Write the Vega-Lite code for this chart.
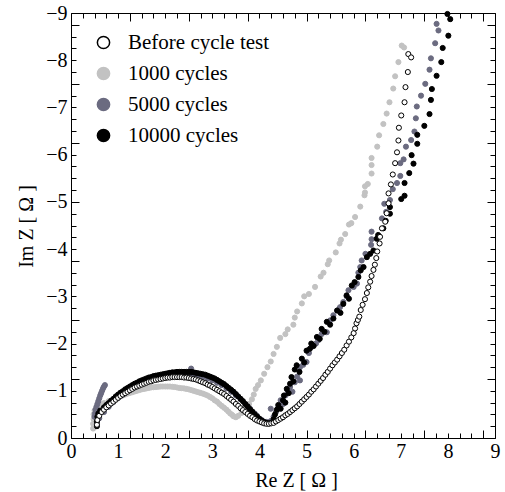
{
  "$schema": "https://vega.github.io/schema/vega-lite/v6.json",
  "width": 424,
  "height": 425,
  "autosize": {"type": "none"},
  "padding": {"left": 71, "top": 13, "right": 10, "bottom": 54},
  "background": "white",
  "config": {
    "view": {"stroke": null},
    "font": "Liberation Serif",
    "axis": {
      "labelFont": "Liberation Serif",
      "labelFontSize": 20,
      "labelColor": "black",
      "titleFont": "Liberation Serif",
      "titleFontSize": 20,
      "titleFontWeight": "normal",
      "titleColor": "black",
      "domainColor": "black",
      "domainWidth": 1,
      "tickColor": "black",
      "tickWidth": 1,
      "grid": false
    },
    "legend": {
      "labelFont": "Liberation Serif",
      "labelFontSize": 21,
      "labelColor": "black"
    }
  },
  "layer": [
    {
      "data": {
        "values": [
          {"s": "1000 cycles", "re": 0.47, "im": -0.2},
          {"s": "1000 cycles", "re": 0.47, "im": -0.3},
          {"s": "1000 cycles", "re": 0.48, "im": -0.4},
          {"s": "1000 cycles", "re": 0.48, "im": -0.5},
          {"s": "1000 cycles", "re": 0.5, "im": -0.58},
          {"s": "1000 cycles", "re": 0.55, "im": -0.65},
          {"s": "1000 cycles", "re": 0.62, "im": -0.7},
          {"s": "1000 cycles", "re": 0.7, "im": -0.74},
          {"s": "1000 cycles", "re": 0.8, "im": -0.78},
          {"s": "1000 cycles", "re": 0.9, "im": -0.82},
          {"s": "1000 cycles", "re": 0.95, "im": -0.84},
          {"s": "1000 cycles", "re": 1.0, "im": -0.86},
          {"s": "1000 cycles", "re": 1.05, "im": -0.88},
          {"s": "1000 cycles", "re": 1.1, "im": -0.9},
          {"s": "1000 cycles", "re": 1.15, "im": -0.92},
          {"s": "1000 cycles", "re": 1.2, "im": -0.94},
          {"s": "1000 cycles", "re": 1.25, "im": -0.955},
          {"s": "1000 cycles", "re": 1.3, "im": -0.97},
          {"s": "1000 cycles", "re": 1.35, "im": -0.985},
          {"s": "1000 cycles", "re": 1.4, "im": -1.0},
          {"s": "1000 cycles", "re": 1.45, "im": -1.015},
          {"s": "1000 cycles", "re": 1.5, "im": -1.03},
          {"s": "1000 cycles", "re": 1.55, "im": -1.04},
          {"s": "1000 cycles", "re": 1.6, "im": -1.05},
          {"s": "1000 cycles", "re": 1.65, "im": -1.06},
          {"s": "1000 cycles", "re": 1.7, "im": -1.07},
          {"s": "1000 cycles", "re": 1.75, "im": -1.075},
          {"s": "1000 cycles", "re": 1.8, "im": -1.08},
          {"s": "1000 cycles", "re": 1.85, "im": -1.085},
          {"s": "1000 cycles", "re": 1.9, "im": -1.09},
          {"s": "1000 cycles", "re": 1.95, "im": -1.09},
          {"s": "1000 cycles", "re": 2.0, "im": -1.09},
          {"s": "1000 cycles", "re": 2.05, "im": -1.09},
          {"s": "1000 cycles", "re": 2.1, "im": -1.09},
          {"s": "1000 cycles", "re": 2.15, "im": -1.085},
          {"s": "1000 cycles", "re": 2.2, "im": -1.08},
          {"s": "1000 cycles", "re": 2.25, "im": -1.07},
          {"s": "1000 cycles", "re": 2.3, "im": -1.06},
          {"s": "1000 cycles", "re": 2.35, "im": -1.055},
          {"s": "1000 cycles", "re": 2.4, "im": -1.05},
          {"s": "1000 cycles", "re": 2.45, "im": -1.04},
          {"s": "1000 cycles", "re": 2.5, "im": -1.03},
          {"s": "1000 cycles", "re": 2.55, "im": -1.015},
          {"s": "1000 cycles", "re": 2.6, "im": -1.0},
          {"s": "1000 cycles", "re": 2.65, "im": -0.985},
          {"s": "1000 cycles", "re": 2.7, "im": -0.97},
          {"s": "1000 cycles", "re": 2.75, "im": -0.955},
          {"s": "1000 cycles", "re": 2.8, "im": -0.94},
          {"s": "1000 cycles", "re": 2.85, "im": -0.92},
          {"s": "1000 cycles", "re": 2.9, "im": -0.9},
          {"s": "1000 cycles", "re": 2.95, "im": -0.87},
          {"s": "1000 cycles", "re": 3.0, "im": -0.84},
          {"s": "1000 cycles", "re": 3.05, "im": -0.8},
          {"s": "1000 cycles", "re": 3.1, "im": -0.77},
          {"s": "1000 cycles", "re": 3.15, "im": -0.72},
          {"s": "1000 cycles", "re": 3.2, "im": -0.68},
          {"s": "1000 cycles", "re": 3.25, "im": -0.64},
          {"s": "1000 cycles", "re": 3.3, "im": -0.6},
          {"s": "1000 cycles", "re": 3.34, "im": -0.56},
          {"s": "1000 cycles", "re": 3.38, "im": -0.52},
          {"s": "1000 cycles", "re": 3.42, "im": -0.49},
          {"s": "1000 cycles", "re": 3.45, "im": -0.46},
          {"s": "1000 cycles", "re": 3.5, "im": -0.44},
          {"s": "1000 cycles", "re": 3.55, "im": -0.47},
          {"s": "1000 cycles", "re": 3.62, "im": -0.53},
          {"s": "1000 cycles", "re": 3.7, "im": -0.62},
          {"s": "1000 cycles", "re": 3.78, "im": -0.72},
          {"s": "1000 cycles", "re": 3.84, "im": -0.82},
          {"s": "1000 cycles", "re": 3.88, "im": -0.92},
          {"s": "1000 cycles", "re": 3.92, "im": -1.04},
          {"s": "1000 cycles", "re": 3.97, "im": -1.12},
          {"s": "1000 cycles", "re": 4.03, "im": -1.22},
          {"s": "1000 cycles", "re": 4.1, "im": -1.36},
          {"s": "1000 cycles", "re": 4.17, "im": -1.5},
          {"s": "1000 cycles", "re": 4.24, "im": -1.62},
          {"s": "1000 cycles", "re": 4.3, "im": -1.78},
          {"s": "1000 cycles", "re": 4.37, "im": -1.93},
          {"s": "1000 cycles", "re": 4.44, "im": -2.12},
          {"s": "1000 cycles", "re": 4.55, "im": -2.2},
          {"s": "1000 cycles", "re": 4.6, "im": -2.3},
          {"s": "1000 cycles", "re": 4.72, "im": -2.4},
          {"s": "1000 cycles", "re": 4.75, "im": -2.55},
          {"s": "1000 cycles", "re": 4.8, "im": -2.68},
          {"s": "1000 cycles", "re": 4.9, "im": -2.85},
          {"s": "1000 cycles", "re": 4.95, "im": -3.0},
          {"s": "1000 cycles", "re": 5.05, "im": -3.05},
          {"s": "1000 cycles", "re": 5.18, "im": -3.2},
          {"s": "1000 cycles", "re": 5.3, "im": -3.42},
          {"s": "1000 cycles", "re": 5.36, "im": -3.5},
          {"s": "1000 cycles", "re": 5.45, "im": -3.68},
          {"s": "1000 cycles", "re": 5.48, "im": -3.76},
          {"s": "1000 cycles", "re": 5.62, "im": -3.93},
          {"s": "1000 cycles", "re": 5.7, "im": -4.12},
          {"s": "1000 cycles", "re": 5.73, "im": -4.2},
          {"s": "1000 cycles", "re": 5.82, "im": -4.32},
          {"s": "1000 cycles", "re": 5.9, "im": -4.52},
          {"s": "1000 cycles", "re": 5.95, "im": -4.55},
          {"s": "1000 cycles", "re": 6.03, "im": -4.68},
          {"s": "1000 cycles", "re": 6.14, "im": -4.9},
          {"s": "1000 cycles", "re": 6.23, "im": -5.14},
          {"s": "1000 cycles", "re": 6.24, "im": -5.2},
          {"s": "1000 cycles", "re": 6.24, "im": -5.33},
          {"s": "1000 cycles", "re": 6.3, "im": -5.38},
          {"s": "1000 cycles", "re": 6.38, "im": -5.6},
          {"s": "1000 cycles", "re": 6.38, "im": -5.78},
          {"s": "1000 cycles", "re": 6.38, "im": -5.93},
          {"s": "1000 cycles", "re": 6.5, "im": -6.17},
          {"s": "1000 cycles", "re": 6.54, "im": -6.41},
          {"s": "1000 cycles", "re": 6.63, "im": -6.65},
          {"s": "1000 cycles", "re": 6.7, "im": -6.87},
          {"s": "1000 cycles", "re": 6.76, "im": -7.11},
          {"s": "1000 cycles", "re": 6.84, "im": -7.4},
          {"s": "1000 cycles", "re": 6.88, "im": -7.66},
          {"s": "1000 cycles", "re": 6.95, "im": -7.96},
          {"s": "1000 cycles", "re": 7.02, "im": -8.31},
          {"s": "1000 cycles", "re": 7.07, "im": -8.27},

          {"s": "5000 cycles", "re": 0.5, "im": -0.45},
          {"s": "5000 cycles", "re": 0.51, "im": -0.52},
          {"s": "5000 cycles", "re": 0.52, "im": -0.6},
          {"s": "5000 cycles", "re": 0.54, "im": -0.66},
          {"s": "5000 cycles", "re": 0.56, "im": -0.72},
          {"s": "5000 cycles", "re": 0.58, "im": -0.78},
          {"s": "5000 cycles", "re": 0.6, "im": -0.84},
          {"s": "5000 cycles", "re": 0.62, "im": -0.9},
          {"s": "5000 cycles", "re": 0.64, "im": -0.95},
          {"s": "5000 cycles", "re": 0.66, "im": -1.0},
          {"s": "5000 cycles", "re": 0.68, "im": -1.05},
          {"s": "5000 cycles", "re": 0.7, "im": -1.09},
          {"s": "5000 cycles", "re": 0.72, "im": -1.12},
          {"s": "5000 cycles", "re": 0.55, "im": -0.3},
          {"s": "5000 cycles", "re": 0.6, "im": -0.42},
          {"s": "5000 cycles", "re": 0.7, "im": -0.55},
          {"s": "5000 cycles", "re": 0.8, "im": -0.66},
          {"s": "5000 cycles", "re": 0.9, "im": -0.76},
          {"s": "5000 cycles", "re": 1.0, "im": -0.85},
          {"s": "5000 cycles", "re": 1.1, "im": -0.92},
          {"s": "5000 cycles", "re": 1.2, "im": -0.99},
          {"s": "5000 cycles", "re": 1.3, "im": -1.05},
          {"s": "5000 cycles", "re": 1.4, "im": -1.1},
          {"s": "5000 cycles", "re": 1.5, "im": -1.15},
          {"s": "5000 cycles", "re": 1.6, "im": -1.19},
          {"s": "5000 cycles", "re": 1.7, "im": -1.23},
          {"s": "5000 cycles", "re": 1.8, "im": -1.26},
          {"s": "5000 cycles", "re": 1.9, "im": -1.28},
          {"s": "5000 cycles", "re": 2.0, "im": -1.3},
          {"s": "5000 cycles", "re": 2.1, "im": -1.32},
          {"s": "5000 cycles", "re": 2.2, "im": -1.33},
          {"s": "5000 cycles", "re": 2.3, "im": -1.34},
          {"s": "5000 cycles", "re": 2.4, "im": -1.34},
          {"s": "5000 cycles", "re": 2.55, "im": -1.47},
          {"s": "5000 cycles", "re": 2.5, "im": -1.33},
          {"s": "5000 cycles", "re": 2.6, "im": -1.32},
          {"s": "5000 cycles", "re": 2.7, "im": -1.31},
          {"s": "5000 cycles", "re": 2.8, "im": -1.29},
          {"s": "5000 cycles", "re": 2.9, "im": -1.26},
          {"s": "5000 cycles", "re": 3.0, "im": -1.22},
          {"s": "5000 cycles", "re": 3.1, "im": -1.17},
          {"s": "5000 cycles", "re": 3.2, "im": -1.12},
          {"s": "5000 cycles", "re": 3.3, "im": -1.05},
          {"s": "5000 cycles", "re": 3.4, "im": -0.98},
          {"s": "5000 cycles", "re": 3.5, "im": -0.9},
          {"s": "5000 cycles", "re": 3.6, "im": -0.82},
          {"s": "5000 cycles", "re": 3.7, "im": -0.72},
          {"s": "5000 cycles", "re": 3.8, "im": -0.62},
          {"s": "5000 cycles", "re": 3.9, "im": -0.52},
          {"s": "5000 cycles", "re": 3.95, "im": -0.47},
          {"s": "5000 cycles", "re": 4.05, "im": -0.38},
          {"s": "5000 cycles", "re": 4.15, "im": -0.34},
          {"s": "5000 cycles", "re": 4.24, "im": -0.36},
          {"s": "5000 cycles", "re": 4.24, "im": -0.62},
          {"s": "5000 cycles", "re": 4.3, "im": -0.45},
          {"s": "5000 cycles", "re": 4.35, "im": -0.55},
          {"s": "5000 cycles", "re": 4.4, "im": -0.65},
          {"s": "5000 cycles", "re": 4.45, "im": -0.8},
          {"s": "5000 cycles", "re": 4.5, "im": -0.72},
          {"s": "5000 cycles", "re": 4.55, "im": -0.9},
          {"s": "5000 cycles", "re": 4.6, "im": -1.0},
          {"s": "5000 cycles", "re": 4.65, "im": -1.08},
          {"s": "5000 cycles", "re": 4.7, "im": -0.98},
          {"s": "5000 cycles", "re": 4.75, "im": -1.18},
          {"s": "5000 cycles", "re": 4.8, "im": -1.3},
          {"s": "5000 cycles", "re": 4.86, "im": -1.22},
          {"s": "5000 cycles", "re": 4.86, "im": -1.5},
          {"s": "5000 cycles", "re": 4.93, "im": -1.55},
          {"s": "5000 cycles", "re": 5.0, "im": -1.61},
          {"s": "5000 cycles", "re": 5.05, "im": -1.8},
          {"s": "5000 cycles", "re": 5.11, "im": -1.93},
          {"s": "5000 cycles", "re": 5.2, "im": -2.0},
          {"s": "5000 cycles", "re": 5.25, "im": -2.07},
          {"s": "5000 cycles", "re": 5.32, "im": -2.2},
          {"s": "5000 cycles", "re": 5.43, "im": -2.24},
          {"s": "5000 cycles", "re": 5.5, "im": -2.49},
          {"s": "5000 cycles", "re": 5.57, "im": -2.6},
          {"s": "5000 cycles", "re": 5.65, "im": -2.7},
          {"s": "5000 cycles", "re": 5.71, "im": -2.77},
          {"s": "5000 cycles", "re": 5.78, "im": -2.88},
          {"s": "5000 cycles", "re": 5.85, "im": -3.0},
          {"s": "5000 cycles", "re": 5.89, "im": -3.13},
          {"s": "5000 cycles", "re": 6.0, "im": -3.2},
          {"s": "5000 cycles", "re": 6.07, "im": -3.27},
          {"s": "5000 cycles", "re": 6.1, "im": -3.5},
          {"s": "5000 cycles", "re": 6.14, "im": -3.62},
          {"s": "5000 cycles", "re": 6.17, "im": -3.76},
          {"s": "5000 cycles", "re": 6.25, "im": -3.9},
          {"s": "5000 cycles", "re": 6.37, "im": -4.09},
          {"s": "5000 cycles", "re": 6.38, "im": -4.21},
          {"s": "5000 cycles", "re": 6.38, "im": -4.37},
          {"s": "5000 cycles", "re": 6.6, "im": -4.65},
          {"s": "5000 cycles", "re": 6.65, "im": -4.96},
          {"s": "5000 cycles", "re": 6.69, "im": -4.79},
          {"s": "5000 cycles", "re": 6.77, "im": -5.04},
          {"s": "5000 cycles", "re": 6.83, "im": -5.27},
          {"s": "5000 cycles", "re": 6.92, "im": -5.4},
          {"s": "5000 cycles", "re": 6.99, "im": -5.55},
          {"s": "5000 cycles", "re": 6.99, "im": -5.82},
          {"s": "5000 cycles", "re": 7.06, "im": -5.9},
          {"s": "5000 cycles", "re": 7.11, "im": -6.17},
          {"s": "5000 cycles", "re": 7.22, "im": -6.31},
          {"s": "5000 cycles", "re": 7.29, "im": -6.49},
          {"s": "5000 cycles", "re": 7.32, "im": -6.77},
          {"s": "5000 cycles", "re": 7.34, "im": -7.02},
          {"s": "5000 cycles", "re": 7.43, "im": -7.25},
          {"s": "5000 cycles", "re": 7.52, "im": -7.5},
          {"s": "5000 cycles", "re": 7.61, "im": -7.8},
          {"s": "5000 cycles", "re": 7.64, "im": -8.04},
          {"s": "5000 cycles", "re": 7.73, "im": -8.36},
          {"s": "5000 cycles", "re": 7.8, "im": -8.63},
          {"s": "5000 cycles", "re": 7.76, "im": -8.77},

          {"s": "10000 cycles", "re": 0.55, "im": -0.25},
          {"s": "10000 cycles", "re": 0.55, "im": -0.35},
          {"s": "10000 cycles", "re": 0.56, "im": -0.45},
          {"s": "10000 cycles", "re": 0.58, "im": -0.52},
          {"s": "10000 cycles", "re": 0.62, "im": -0.58},
          {"s": "10000 cycles", "re": 0.7, "im": -0.65},
          {"s": "10000 cycles", "re": 0.75, "im": -0.7},
          {"s": "10000 cycles", "re": 0.8, "im": -0.74},
          {"s": "10000 cycles", "re": 0.85, "im": -0.79},
          {"s": "10000 cycles", "re": 0.9, "im": -0.83},
          {"s": "10000 cycles", "re": 0.95, "im": -0.88},
          {"s": "10000 cycles", "re": 1.0, "im": -0.92},
          {"s": "10000 cycles", "re": 1.05, "im": -0.96},
          {"s": "10000 cycles", "re": 1.1, "im": -0.99},
          {"s": "10000 cycles", "re": 1.15, "im": -1.03},
          {"s": "10000 cycles", "re": 1.2, "im": -1.06},
          {"s": "10000 cycles", "re": 1.25, "im": -1.09},
          {"s": "10000 cycles", "re": 1.3, "im": -1.12},
          {"s": "10000 cycles", "re": 1.35, "im": -1.15},
          {"s": "10000 cycles", "re": 1.4, "im": -1.17},
          {"s": "10000 cycles", "re": 1.45, "im": -1.2},
          {"s": "10000 cycles", "re": 1.5, "im": -1.22},
          {"s": "10000 cycles", "re": 1.55, "im": -1.24},
          {"s": "10000 cycles", "re": 1.6, "im": -1.26},
          {"s": "10000 cycles", "re": 1.65, "im": -1.28},
          {"s": "10000 cycles", "re": 1.7, "im": -1.29},
          {"s": "10000 cycles", "re": 1.75, "im": -1.31},
          {"s": "10000 cycles", "re": 1.8, "im": -1.32},
          {"s": "10000 cycles", "re": 1.85, "im": -1.33},
          {"s": "10000 cycles", "re": 1.9, "im": -1.34},
          {"s": "10000 cycles", "re": 1.95, "im": -1.35},
          {"s": "10000 cycles", "re": 2.0, "im": -1.36},
          {"s": "10000 cycles", "re": 2.05, "im": -1.37},
          {"s": "10000 cycles", "re": 2.1, "im": -1.38},
          {"s": "10000 cycles", "re": 2.15, "im": -1.39},
          {"s": "10000 cycles", "re": 2.2, "im": -1.39},
          {"s": "10000 cycles", "re": 2.25, "im": -1.4},
          {"s": "10000 cycles", "re": 2.3, "im": -1.4},
          {"s": "10000 cycles", "re": 2.35, "im": -1.4},
          {"s": "10000 cycles", "re": 2.4, "im": -1.4},
          {"s": "10000 cycles", "re": 2.45, "im": -1.4},
          {"s": "10000 cycles", "re": 2.5, "im": -1.4},
          {"s": "10000 cycles", "re": 2.55, "im": -1.4},
          {"s": "10000 cycles", "re": 2.6, "im": -1.39},
          {"s": "10000 cycles", "re": 2.65, "im": -1.38},
          {"s": "10000 cycles", "re": 2.7, "im": -1.37},
          {"s": "10000 cycles", "re": 2.75, "im": -1.36},
          {"s": "10000 cycles", "re": 2.8, "im": -1.35},
          {"s": "10000 cycles", "re": 2.85, "im": -1.34},
          {"s": "10000 cycles", "re": 2.9, "im": -1.32},
          {"s": "10000 cycles", "re": 2.95, "im": -1.3},
          {"s": "10000 cycles", "re": 3.0, "im": -1.28},
          {"s": "10000 cycles", "re": 3.05, "im": -1.26},
          {"s": "10000 cycles", "re": 3.1, "im": -1.23},
          {"s": "10000 cycles", "re": 3.15, "im": -1.2},
          {"s": "10000 cycles", "re": 3.2, "im": -1.17},
          {"s": "10000 cycles", "re": 3.25, "im": -1.14},
          {"s": "10000 cycles", "re": 3.3, "im": -1.1},
          {"s": "10000 cycles", "re": 3.35, "im": -1.06},
          {"s": "10000 cycles", "re": 3.4, "im": -1.02},
          {"s": "10000 cycles", "re": 3.45, "im": -0.98},
          {"s": "10000 cycles", "re": 3.5, "im": -0.93},
          {"s": "10000 cycles", "re": 3.55, "im": -0.88},
          {"s": "10000 cycles", "re": 3.6, "im": -0.83},
          {"s": "10000 cycles", "re": 3.65, "im": -0.78},
          {"s": "10000 cycles", "re": 3.7, "im": -0.72},
          {"s": "10000 cycles", "re": 3.75, "im": -0.67},
          {"s": "10000 cycles", "re": 3.8, "im": -0.61},
          {"s": "10000 cycles", "re": 3.85, "im": -0.56},
          {"s": "10000 cycles", "re": 3.9, "im": -0.5},
          {"s": "10000 cycles", "re": 3.95, "im": -0.45},
          {"s": "10000 cycles", "re": 4.0, "im": -0.41},
          {"s": "10000 cycles", "re": 4.05, "im": -0.37},
          {"s": "10000 cycles", "re": 4.1, "im": -0.34},
          {"s": "10000 cycles", "re": 4.15, "im": -0.32},
          {"s": "10000 cycles", "re": 4.2, "im": -0.31},
          {"s": "10000 cycles", "re": 4.25, "im": -0.32},
          {"s": "10000 cycles", "re": 4.3, "im": -0.4},
          {"s": "10000 cycles", "re": 4.33, "im": -0.5},
          {"s": "10000 cycles", "re": 4.37, "im": -0.6},
          {"s": "10000 cycles", "re": 4.4, "im": -0.7},
          {"s": "10000 cycles", "re": 4.45, "im": -0.62},
          {"s": "10000 cycles", "re": 4.5, "im": -0.8},
          {"s": "10000 cycles", "re": 4.52, "im": -0.9},
          {"s": "10000 cycles", "re": 4.55, "im": -0.75},
          {"s": "10000 cycles", "re": 4.58, "im": -1.04},
          {"s": "10000 cycles", "re": 4.62, "im": -0.95},
          {"s": "10000 cycles", "re": 4.65, "im": -1.15},
          {"s": "10000 cycles", "re": 4.68, "im": -1.29},
          {"s": "10000 cycles", "re": 4.72, "im": -1.2},
          {"s": "10000 cycles", "re": 4.75, "im": -1.45},
          {"s": "10000 cycles", "re": 4.79, "im": -1.54},
          {"s": "10000 cycles", "re": 4.85, "im": -1.4},
          {"s": "10000 cycles", "re": 4.9, "im": -1.68},
          {"s": "10000 cycles", "re": 4.95, "im": -1.6},
          {"s": "10000 cycles", "re": 5.0, "im": -1.85},
          {"s": "10000 cycles", "re": 5.07, "im": -1.89},
          {"s": "10000 cycles", "re": 5.1, "im": -2.0},
          {"s": "10000 cycles", "re": 5.15, "im": -1.95},
          {"s": "10000 cycles", "re": 5.22, "im": -2.14},
          {"s": "10000 cycles", "re": 5.28, "im": -2.1},
          {"s": "10000 cycles", "re": 5.32, "im": -2.31},
          {"s": "10000 cycles", "re": 5.38, "im": -2.25},
          {"s": "10000 cycles", "re": 5.43, "im": -2.46},
          {"s": "10000 cycles", "re": 5.5, "im": -2.4},
          {"s": "10000 cycles", "re": 5.57, "im": -2.53},
          {"s": "10000 cycles", "re": 5.65, "im": -2.7},
          {"s": "10000 cycles", "re": 5.72, "im": -2.65},
          {"s": "10000 cycles", "re": 5.78, "im": -2.84},
          {"s": "10000 cycles", "re": 5.85, "im": -3.02},
          {"s": "10000 cycles", "re": 5.9, "im": -2.95},
          {"s": "10000 cycles", "re": 5.96, "im": -3.23},
          {"s": "10000 cycles", "re": 6.02, "im": -3.3},
          {"s": "10000 cycles", "re": 6.1, "im": -3.41},
          {"s": "10000 cycles", "re": 6.15, "im": -3.55},
          {"s": "10000 cycles", "re": 6.21, "im": -3.62},
          {"s": "10000 cycles", "re": 6.28, "im": -3.83},
          {"s": "10000 cycles", "re": 6.35, "im": -3.9},
          {"s": "10000 cycles", "re": 6.42, "im": -3.97},
          {"s": "10000 cycles", "re": 6.49, "im": -4.22},
          {"s": "10000 cycles", "re": 6.52, "im": -4.3},
          {"s": "10000 cycles", "re": 6.63, "im": -4.44},
          {"s": "10000 cycles", "re": 6.68, "im": -4.6},
          {"s": "10000 cycles", "re": 6.77, "im": -4.75},
          {"s": "10000 cycles", "re": 6.77, "im": -4.89},
          {"s": "10000 cycles", "re": 7.01, "im": -5.06},
          {"s": "10000 cycles", "re": 7.08, "im": -5.13},
          {"s": "10000 cycles", "re": 7.08, "im": -5.4},
          {"s": "10000 cycles", "re": 7.18, "im": -5.61},
          {"s": "10000 cycles", "re": 7.27, "im": -5.81},
          {"s": "10000 cycles", "re": 7.23, "im": -5.99},
          {"s": "10000 cycles", "re": 7.35, "im": -6.23},
          {"s": "10000 cycles", "re": 7.35, "im": -6.42},
          {"s": "10000 cycles", "re": 7.5, "im": -6.61},
          {"s": "10000 cycles", "re": 7.61, "im": -6.86},
          {"s": "10000 cycles", "re": 7.64, "im": -7.16},
          {"s": "10000 cycles", "re": 7.66, "im": -7.39},
          {"s": "10000 cycles", "re": 7.76, "im": -7.67},
          {"s": "10000 cycles", "re": 7.86, "im": -7.96},
          {"s": "10000 cycles", "re": 7.89, "im": -8.26},
          {"s": "10000 cycles", "re": 8.01, "im": -8.52},
          {"s": "10000 cycles", "re": 8.05, "im": -8.87},
          {"s": "10000 cycles", "re": 7.99, "im": -8.98},

          {"s": "Before cycle test", "re": 0.55, "im": -0.28},
          {"s": "Before cycle test", "re": 0.56, "im": -0.38},
          {"s": "Before cycle test", "re": 0.6, "im": -0.47},
          {"s": "Before cycle test", "re": 0.65, "im": -0.55},
          {"s": "Before cycle test", "re": 0.7, "im": -0.6},
          {"s": "Before cycle test", "re": 0.75, "im": -0.65},
          {"s": "Before cycle test", "re": 0.8, "im": -0.69},
          {"s": "Before cycle test", "re": 0.85, "im": -0.73},
          {"s": "Before cycle test", "re": 0.9, "im": -0.77},
          {"s": "Before cycle test", "re": 0.95, "im": -0.81},
          {"s": "Before cycle test", "re": 1.0, "im": -0.85},
          {"s": "Before cycle test", "re": 1.05, "im": -0.89},
          {"s": "Before cycle test", "re": 1.1, "im": -0.92},
          {"s": "Before cycle test", "re": 1.15, "im": -0.95},
          {"s": "Before cycle test", "re": 1.2, "im": -0.98},
          {"s": "Before cycle test", "re": 1.25, "im": -1.01},
          {"s": "Before cycle test", "re": 1.3, "im": -1.04},
          {"s": "Before cycle test", "re": 1.35, "im": -1.07},
          {"s": "Before cycle test", "re": 1.4, "im": -1.09},
          {"s": "Before cycle test", "re": 1.45, "im": -1.11},
          {"s": "Before cycle test", "re": 1.5, "im": -1.13},
          {"s": "Before cycle test", "re": 1.55, "im": -1.15},
          {"s": "Before cycle test", "re": 1.6, "im": -1.17},
          {"s": "Before cycle test", "re": 1.65, "im": -1.19},
          {"s": "Before cycle test", "re": 1.7, "im": -1.2},
          {"s": "Before cycle test", "re": 1.75, "im": -1.22},
          {"s": "Before cycle test", "re": 1.8, "im": -1.23},
          {"s": "Before cycle test", "re": 1.85, "im": -1.24},
          {"s": "Before cycle test", "re": 1.9, "im": -1.25},
          {"s": "Before cycle test", "re": 1.95, "im": -1.26},
          {"s": "Before cycle test", "re": 2.0, "im": -1.27},
          {"s": "Before cycle test", "re": 2.05, "im": -1.28},
          {"s": "Before cycle test", "re": 2.1, "im": -1.28},
          {"s": "Before cycle test", "re": 2.15, "im": -1.29},
          {"s": "Before cycle test", "re": 2.2, "im": -1.29},
          {"s": "Before cycle test", "re": 2.25, "im": -1.29},
          {"s": "Before cycle test", "re": 2.3, "im": -1.29},
          {"s": "Before cycle test", "re": 2.35, "im": -1.29},
          {"s": "Before cycle test", "re": 2.4, "im": -1.28},
          {"s": "Before cycle test", "re": 2.45, "im": -1.28},
          {"s": "Before cycle test", "re": 2.5, "im": -1.27},
          {"s": "Before cycle test", "re": 2.55, "im": -1.26},
          {"s": "Before cycle test", "re": 2.6, "im": -1.25},
          {"s": "Before cycle test", "re": 2.65, "im": -1.24},
          {"s": "Before cycle test", "re": 2.7, "im": -1.22},
          {"s": "Before cycle test", "re": 2.75, "im": -1.2},
          {"s": "Before cycle test", "re": 2.8, "im": -1.18},
          {"s": "Before cycle test", "re": 2.85, "im": -1.16},
          {"s": "Before cycle test", "re": 2.9, "im": -1.13},
          {"s": "Before cycle test", "re": 2.95, "im": -1.11},
          {"s": "Before cycle test", "re": 3.0, "im": -1.08},
          {"s": "Before cycle test", "re": 3.05, "im": -1.05},
          {"s": "Before cycle test", "re": 3.1, "im": -1.02},
          {"s": "Before cycle test", "re": 3.15, "im": -0.99},
          {"s": "Before cycle test", "re": 3.2, "im": -0.96},
          {"s": "Before cycle test", "re": 3.25, "im": -0.93},
          {"s": "Before cycle test", "re": 3.3, "im": -0.89},
          {"s": "Before cycle test", "re": 3.35, "im": -0.85},
          {"s": "Before cycle test", "re": 3.4, "im": -0.81},
          {"s": "Before cycle test", "re": 3.45, "im": -0.77},
          {"s": "Before cycle test", "re": 3.5, "im": -0.72},
          {"s": "Before cycle test", "re": 3.55, "im": -0.68},
          {"s": "Before cycle test", "re": 3.6, "im": -0.63},
          {"s": "Before cycle test", "re": 3.65, "im": -0.59},
          {"s": "Before cycle test", "re": 3.7, "im": -0.55},
          {"s": "Before cycle test", "re": 3.75, "im": -0.51},
          {"s": "Before cycle test", "re": 3.8, "im": -0.47},
          {"s": "Before cycle test", "re": 3.85, "im": -0.44},
          {"s": "Before cycle test", "re": 3.9, "im": -0.4},
          {"s": "Before cycle test", "re": 3.95, "im": -0.37},
          {"s": "Before cycle test", "re": 4.0, "im": -0.35},
          {"s": "Before cycle test", "re": 4.05, "im": -0.33},
          {"s": "Before cycle test", "re": 4.1, "im": -0.31},
          {"s": "Before cycle test", "re": 4.15, "im": -0.3},
          {"s": "Before cycle test", "re": 4.2, "im": -0.3},
          {"s": "Before cycle test", "re": 4.25, "im": -0.31},
          {"s": "Before cycle test", "re": 4.3, "im": -0.32},
          {"s": "Before cycle test", "re": 4.35, "im": -0.35},
          {"s": "Before cycle test", "re": 4.4, "im": -0.38},
          {"s": "Before cycle test", "re": 4.45, "im": -0.41},
          {"s": "Before cycle test", "re": 4.5, "im": -0.44},
          {"s": "Before cycle test", "re": 4.55, "im": -0.48},
          {"s": "Before cycle test", "re": 4.6, "im": -0.51},
          {"s": "Before cycle test", "re": 4.65, "im": -0.55},
          {"s": "Before cycle test", "re": 4.7, "im": -0.59},
          {"s": "Before cycle test", "re": 4.75, "im": -0.63},
          {"s": "Before cycle test", "re": 4.8, "im": -0.67},
          {"s": "Before cycle test", "re": 4.85, "im": -0.72},
          {"s": "Before cycle test", "re": 4.9, "im": -0.77},
          {"s": "Before cycle test", "re": 4.95, "im": -0.82},
          {"s": "Before cycle test", "re": 5.0, "im": -0.87},
          {"s": "Before cycle test", "re": 5.05, "im": -0.92},
          {"s": "Before cycle test", "re": 5.1, "im": -0.98},
          {"s": "Before cycle test", "re": 5.15, "im": -1.03},
          {"s": "Before cycle test", "re": 5.2, "im": -1.09},
          {"s": "Before cycle test", "re": 5.25, "im": -1.15},
          {"s": "Before cycle test", "re": 5.3, "im": -1.21},
          {"s": "Before cycle test", "re": 5.35, "im": -1.27},
          {"s": "Before cycle test", "re": 5.4, "im": -1.34},
          {"s": "Before cycle test", "re": 5.45, "im": -1.4},
          {"s": "Before cycle test", "re": 5.5, "im": -1.47},
          {"s": "Before cycle test", "re": 5.55, "im": -1.54},
          {"s": "Before cycle test", "re": 5.6, "im": -1.6},
          {"s": "Before cycle test", "re": 5.65, "im": -1.66},
          {"s": "Before cycle test", "re": 5.7, "im": -1.73},
          {"s": "Before cycle test", "re": 5.75, "im": -1.8},
          {"s": "Before cycle test", "re": 5.8, "im": -1.87},
          {"s": "Before cycle test", "re": 5.85, "im": -1.96},
          {"s": "Before cycle test", "re": 5.9, "im": -2.04},
          {"s": "Before cycle test", "re": 5.95, "im": -2.13},
          {"s": "Before cycle test", "re": 6.0, "im": -2.22},
          {"s": "Before cycle test", "re": 6.03, "im": -2.32},
          {"s": "Before cycle test", "re": 6.06, "im": -2.43},
          {"s": "Before cycle test", "re": 6.09, "im": -2.5},
          {"s": "Before cycle test", "re": 6.12, "im": -2.57},
          {"s": "Before cycle test", "re": 6.15, "im": -2.71},
          {"s": "Before cycle test", "re": 6.19, "im": -2.82},
          {"s": "Before cycle test", "re": 6.24, "im": -2.94},
          {"s": "Before cycle test", "re": 6.28, "im": -3.07},
          {"s": "Before cycle test", "re": 6.31, "im": -3.19},
          {"s": "Before cycle test", "re": 6.35, "im": -3.31},
          {"s": "Before cycle test", "re": 6.38, "im": -3.43},
          {"s": "Before cycle test", "re": 6.42, "im": -3.56},
          {"s": "Before cycle test", "re": 6.45, "im": -3.67},
          {"s": "Before cycle test", "re": 6.48, "im": -3.81},
          {"s": "Before cycle test", "re": 6.5, "im": -3.95},
          {"s": "Before cycle test", "re": 6.55, "im": -4.12},
          {"s": "Before cycle test", "re": 6.56, "im": -4.26},
          {"s": "Before cycle test", "re": 6.6, "im": -4.44},
          {"s": "Before cycle test", "re": 6.67, "im": -4.58},
          {"s": "Before cycle test", "re": 6.7, "im": -4.76},
          {"s": "Before cycle test", "re": 6.74, "im": -4.97},
          {"s": "Before cycle test", "re": 6.74, "im": -5.18},
          {"s": "Before cycle test", "re": 6.79, "im": -5.37},
          {"s": "Before cycle test", "re": 6.83, "im": -5.58},
          {"s": "Before cycle test", "re": 6.88, "im": -5.82},
          {"s": "Before cycle test", "re": 6.92, "im": -6.05},
          {"s": "Before cycle test", "re": 6.95, "im": -6.3},
          {"s": "Before cycle test", "re": 6.96, "im": -6.57},
          {"s": "Before cycle test", "re": 7.01, "im": -6.83},
          {"s": "Before cycle test", "re": 7.08, "im": -7.11},
          {"s": "Before cycle test", "re": 7.1, "im": -7.43},
          {"s": "Before cycle test", "re": 7.15, "im": -7.75},
          {"s": "Before cycle test", "re": 7.16, "im": -8.13},
          {"s": "Before cycle test", "re": 7.22, "im": -8.06}
        ]
      },
      "mark": {"type": "point", "filled": true, "size": 26, "strokeWidth": 1, "opacity": 1},
      "encoding": {
        "x": {
          "field": "re", "type": "quantitative",
          "scale": {"domain": [0, 9], "nice": false, "zero": false},
          "axis": {
            "orient": "bottom",
            "title": "Re Z [ Ω ]",
            "titleX": 225, "titleY": 48, "titleBaseline": "alphabetic", "titleAlign": "center",
            "values": [0, 1, 2, 3, 4, 5, 6, 7, 8, 9],
            "format": "d",
            "ticks": false,
            "labelPadding": 3,
            "labelFlush": false,
            "labelOverlap": false
          }
        },
        "y": {
          "field": "im", "type": "quantitative",
          "scale": {"domain": [0, -9], "nice": false, "zero": false},
          "axis": {
            "orient": "left",
            "title": "Im Z [ Ω ]",
            "titleX": -39, "titleY": 213, "titleBaseline": "alphabetic", "titleAlign": "center", "titleAngle": -90,
            "values": [0, -1, -2, -3, -4, -5, -6, -7, -8, -9],
            "format": "d",
            "ticks": false,
            "labelPadding": 4,
            "labelFlush": false,
            "labelOverlap": false
          }
        },
        "fill": {
          "field": "s", "type": "nominal",
          "scale": {"domain": ["Before cycle test", "1000 cycles", "5000 cycles", "10000 cycles"], "range": ["white", "#c2c2c2", "#6b6b80", "black"]},
          "legend": {
            "title": null, "orient": "none", "legendX": 22, "legendY": 19,
            "symbolSize": 150, "symbolStrokeWidth": 1.5, "labelOffset": 14, "rowPadding": 9, "padding": 0,
            "labelFontSize": 21
          }
        },
        "stroke": {
          "field": "s", "type": "nominal",
          "scale": {"domain": ["Before cycle test", "1000 cycles", "5000 cycles", "10000 cycles"], "range": ["black", "#c2c2c2", "#6b6b80", "black"]},
          "legend": {
            "title": null, "orient": "none", "legendX": 22, "legendY": 19,
            "symbolSize": 150, "symbolStrokeWidth": 1.5, "labelOffset": 14, "rowPadding": 9, "padding": 0,
            "labelFontSize": 21
          }
        }
      }
    },
    {
      "data": {"values": [{"re": 0, "im": 0}]},
      "mark": {"type": "point", "opacity": 0},
      "encoding": {
        "x": {
          "field": "re", "type": "quantitative",
          "scale": {"domain": [0, 9], "nice": false, "zero": false},
          "axis": {
            "orient": "bottom", "title": null, "labels": false, "domain": false,
            "values": [0,0.25,0.5,0.75,1,1.25,1.5,1.75,2,2.25,2.5,2.75,3,3.25,3.5,3.75,4,4.25,4.5,4.75,5,5.25,5.5,5.75,6,6.25,6.5,6.75,7,7.25,7.5,7.75,8,8.25,8.5,8.75,9],
            "tickSize": {"condition": {"test": "datum.value % 1.25 === 0", "value": -8}, "value": -5}
          }
        },
        "y": {
          "field": "im", "type": "quantitative",
          "scale": {"domain": [0, -9], "nice": false, "zero": false},
          "axis": {
            "orient": "left", "title": null, "labels": false, "domain": false,
            "values": [0,-0.25,-0.5,-0.75,-1,-1.25,-1.5,-1.75,-2,-2.25,-2.5,-2.75,-3,-3.25,-3.5,-3.75,-4,-4.25,-4.5,-4.75,-5,-5.25,-5.5,-5.75,-6,-6.25,-6.5,-6.75,-7,-7.25,-7.5,-7.75,-8,-8.25,-8.5,-8.75,-9],
            "tickSize": {"condition": {"test": "datum.value % 1.25 === 0", "value": -8}, "value": -5}
          }
        }
      }
    },
    {
      "data": {"values": [{"re": 0, "im": 0}]},
      "mark": {"type": "point", "opacity": 0},
      "encoding": {
        "x": {
          "field": "re", "type": "quantitative",
          "scale": {"domain": [0, 9], "nice": false, "zero": false},
          "axis": {
            "orient": "top", "title": null, "labels": false,
            "values": [0,0.25,0.5,0.75,1,1.25,1.5,1.75,2,2.25,2.5,2.75,3,3.25,3.5,3.75,4,4.25,4.5,4.75,5,5.25,5.5,5.75,6,6.25,6.5,6.75,7,7.25,7.5,7.75,8,8.25,8.5,8.75,9],
            "tickSize": {"condition": {"test": "datum.value % 1.25 === 0", "value": -8}, "value": -5}
          }
        },
        "y": {
          "field": "im", "type": "quantitative",
          "scale": {"domain": [0, -9], "nice": false, "zero": false},
          "axis": {
            "orient": "right", "title": null, "labels": false,
            "values": [0,-0.25,-0.5,-0.75,-1,-1.25,-1.5,-1.75,-2,-2.25,-2.5,-2.75,-3,-3.25,-3.5,-3.75,-4,-4.25,-4.5,-4.75,-5,-5.25,-5.5,-5.75,-6,-6.25,-6.5,-6.75,-7,-7.25,-7.5,-7.75,-8,-8.25,-8.5,-8.75,-9],
            "tickSize": {"condition": {"test": "datum.value % 1.25 === 0", "value": -8}, "value": -5}
          }
        }
      }
    }
  ],
  "resolve": {"axis": {"x": "independent", "y": "independent"}}
}
